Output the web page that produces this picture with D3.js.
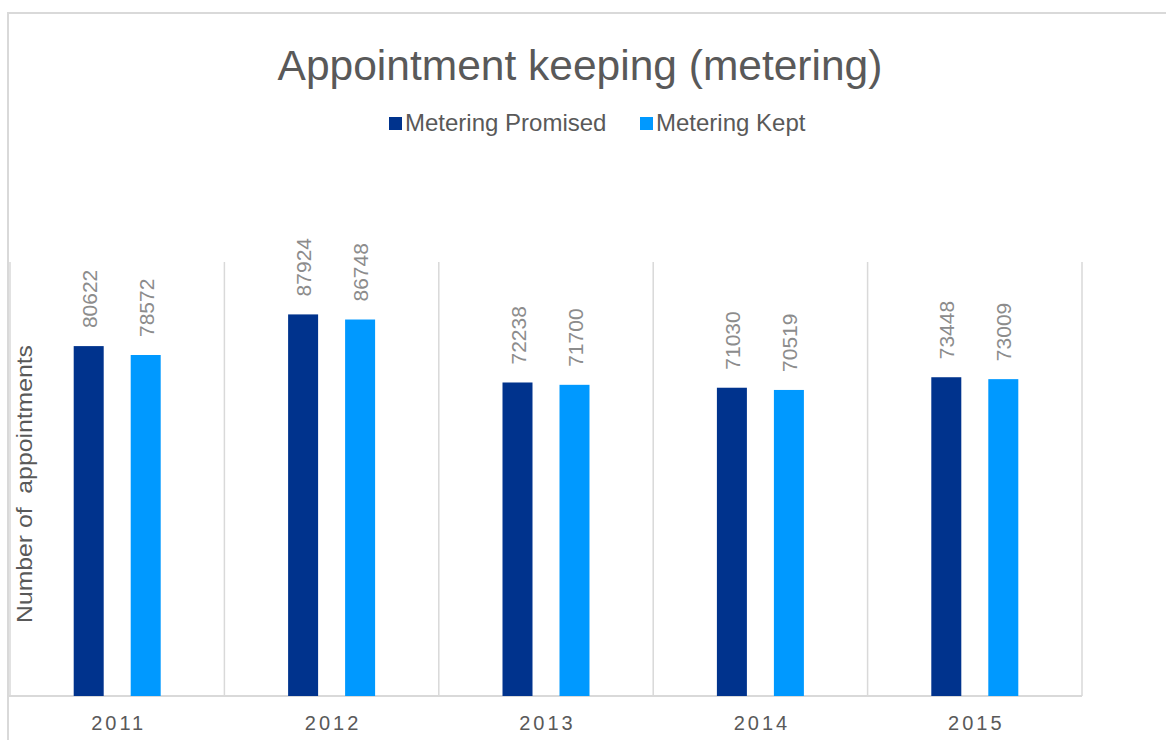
<!DOCTYPE html>
<html><head><meta charset="utf-8">
<script src="https://cdn.jsdelivr.net/npm/d3@7"></script>
<style>body{margin:0;background:#fff}svg{display:block}text{font-family:"Liberation Sans",Arial,sans-serif}</style>
</head><body><svg id="c" width="1166" height="740"></svg>
<script>
const years = ["2011","2012","2013","2014","2015"];
const promised = [80622, 87924, 72238, 71030, 73448];
const kept = [78572, 86748, 71700, 70519, 73009];
const seriesNames = ["Metering Promised", "Metering Kept"];
const seriesColors = ["#00338d", "#0099ff"];

const svg = d3.select("#c");
const plotL = 10, plotR = 1082, plotT = 262, plotB = 696;

// frame
svg.append("rect").attr("x",8).attr("y",13).attr("width",1200).attr("height",800)
  .attr("fill","none").attr("stroke","#d9d9d9").attr("stroke-width",2);

const x = d3.scaleBand().domain(years).range([plotL,plotR]).padding(0);
const y = d3.scaleLinear().domain([0,100000]).range([plotB,plotT]);

// vertical gridlines at category boundaries
const bounds = years.map(d=>x(d)).concat([plotR]);
svg.selectAll(".grid").data(bounds).enter().append("line")
  .attr("x1",d=>d).attr("x2",d=>d).attr("y1",plotT).attr("y2",plotB)
  .attr("stroke","#d9d9d9").attr("stroke-width",1.5);

// axis line
svg.append("line").attr("x1",8).attr("x2",plotR).attr("y1",plotB).attr("y2",plotB)
  .attr("stroke","#d9d9d9").attr("stroke-width",2);

const bw = 30, off = 28.5;
const series = [promised, kept];
series.forEach((vals,si)=>{
  const cx = i => x(years[i]) + x.bandwidth()/2 + (si===0?-off:off);
  svg.selectAll(".bar"+si).data(vals).enter().append("rect")
    .attr("x",(d,i)=>cx(i)-bw/2).attr("width",bw)
    .attr("y",d=>y(d)).attr("height",d=>plotB-y(d))
    .attr("fill",seriesColors[si]);
  svg.selectAll(".lab"+si).data(vals).enter().append("text")
    .attr("transform",(d,i)=>`translate(${cx(i)+8},${y(d)-18}) rotate(-90)`)
    .attr("font-size",21).attr("fill","#8c8c8c").text(d=>d);
});

// x labels
svg.selectAll(".xl").data(years).enter().append("text")
  .attr("x",d=>x(d)+x.bandwidth()/2+1.5).attr("y",730)
  .attr("text-anchor","middle").attr("font-size",20).attr("letter-spacing","3px")
  .attr("fill","#595959").text(d=>d);

// title
svg.append("text").attr("x",580).attr("y",80).attr("text-anchor","middle")
  .attr("font-size",42.5).attr("fill","#595959").text("Appointment keeping (metering)");

// legend
const legX = [389, 640];
seriesNames.forEach((n,i)=>{
  svg.append("rect").attr("x",legX[i]).attr("y",117).attr("width",13).attr("height",13).attr("fill",seriesColors[i]);
  svg.append("text").attr("x",legX[i]+16).attr("y",131).attr("font-size",24).attr("fill","#595959").text(n);
});

// y label
svg.append("text").attr("transform","translate(32,484) rotate(-90)").attr("text-anchor","middle")
  .attr("font-size",22).attr("fill","#595959").style("white-space","pre")
  .attr("textLength",278).attr("lengthAdjust","spacingAndGlyphs").text("Number of  appointments");
</script></body></html>
